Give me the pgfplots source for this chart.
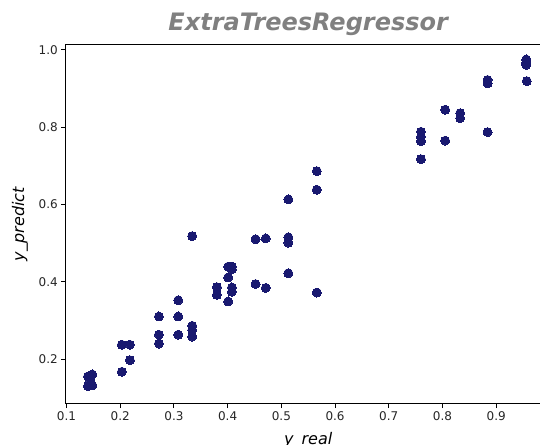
\documentclass[border=0pt]{standalone}
\usepackage{fontspec}
\setmainfont{DejaVu Sans}
\usepackage{pgfplots}
\pgfplotsset{compat=1.18}
\definecolor{dotblue}{HTML}{191970}
\definecolor{titlegray}{HTML}{808080}

\begin{document}
\begin{tikzpicture}
\useasboundingbox (-66bp,-41.7bp) rectangle (474bp,403.3bp);
\begin{axis}[
  at={(0,0)}, anchor=south west,
  scale only axis, width=484.4bp, height=358.3bp,
  xmin=0.099, xmax=1.001, ymin=0.0854, ymax=1.0124,
  xtick={0.1,0.2,...,0.9}, ytick={0.2,0.4,...,1.0},
  tick align=outside, major tick length=4.7bp,
  xtick pos=bottom, ytick pos=left,
  axis line style={line width=1bp}, tick style={line width=1bp, black},
  xticklabel style={/pgf/number format/.cd, fixed, fixed zerofill, precision=1, assume math mode=true},
  yticklabel style={/pgf/number format/.cd, fixed, fixed zerofill, precision=1, assume math mode=true},
  tick label style={font=\fontsize{12bp}{14bp}\selectfont, text=black!85},
  title={\bfseries\itshape ExtraTreesRegressor},
  title style={font=\fontsize{24bp}{28bp}\selectfont, text=titlegray,
    at={(axis description cs:0.5,1.0251)}, anchor=base},
  xlabel={\itshape y\_real},
  ylabel={\itshape y\_predict},
  label style={font=\fontsize{16bp}{19bp}\selectfont},
  xlabel style={at={(axis description cs:0.5,-0.1145)}, anchor=base},
  ylabel style={at={(axis description cs:-0.0867,0.5)}, anchor=base},
]
\addplot[only marks, color=dotblue, mark=*, mark size=4.5bp, mark options={fill=dotblue, draw=dotblue, line width=0pt}] coordinates {
  (0.140,0.155)(0.148,0.160)(0.144,0.145)(0.140,0.130)(0.148,0.132)
  (0.203,0.237)(0.218,0.237)(0.218,0.197)(0.203,0.167)
  (0.272,0.310)(0.272,0.263)(0.272,0.240)
  (0.308,0.352)(0.308,0.310)(0.308,0.263)
  (0.334,0.518)(0.334,0.286)(0.334,0.275)(0.334,0.258)
  (0.380,0.386)(0.380,0.366)
  (0.401,0.439)(0.408,0.439)(0.408,0.432)(0.401,0.411)(0.408,0.385)(0.408,0.374)(0.401,0.349)
  (0.452,0.510)(0.452,0.394)(0.471,0.512)(0.471,0.384)
  (0.513,0.613)(0.513,0.515)(0.513,0.501)(0.513,0.422)
  (0.566,0.686)(0.566,0.638)(0.566,0.372)
  (0.760,0.788)(0.760,0.775)(0.760,0.764)(0.760,0.717)
  (0.805,0.845)(0.805,0.765)
  (0.833,0.836)(0.833,0.823)
  (0.884,0.922)(0.884,0.913)(0.884,0.787)
  (0.956,0.975)(0.956,0.961)(0.956,0.966)(0.957,0.919)
};
\end{axis}
\end{tikzpicture}
\end{document}
